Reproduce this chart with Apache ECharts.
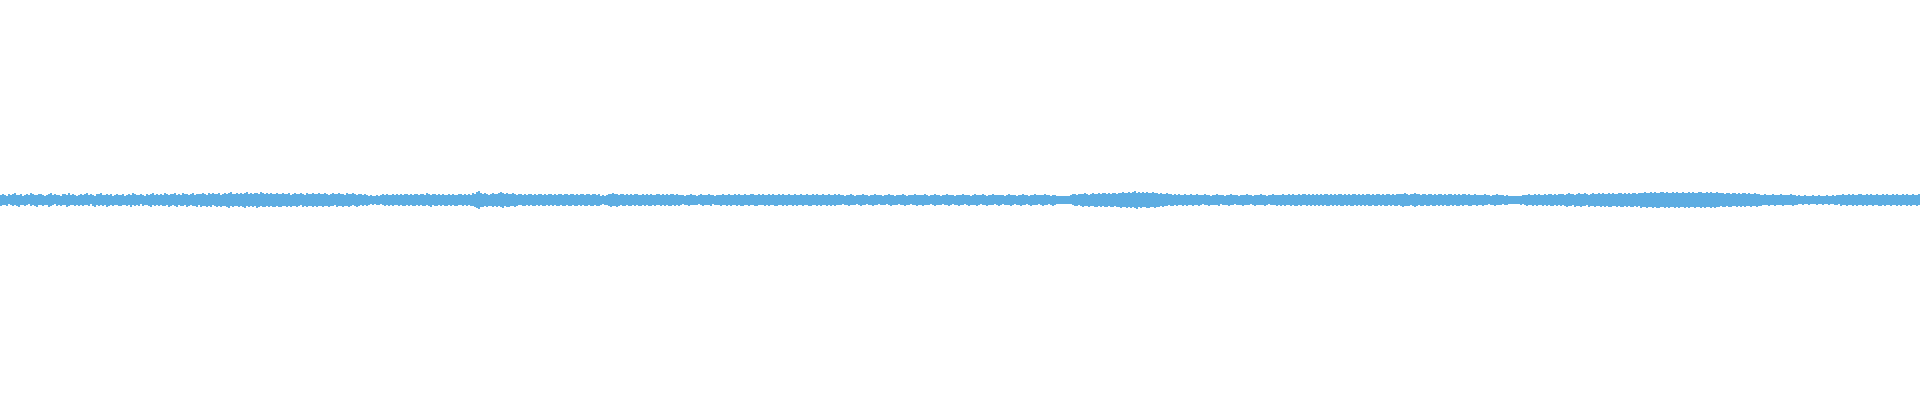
<!DOCTYPE html>
<html>
<head>
<meta charset="utf-8">
<style>html,body{margin:0;padding:0;background:#fff;}#main{width:1920px;height:400px;}</style>
<script src="https://cdn.jsdelivr.net/npm/echarts@6/dist/echarts.min.js"></script>
</head>
<body>
<div id="main"></div>
<script>
// Upper envelope (peak above centre) per column
var upper = [
5,6,5,4,6,5,6,7,5,5,6,4,5,6,5,7,6,5,5,6,
6,5,4,5,6,7,5,6,5,5,4,6,6,5,7,5,6,5,4,5,
6,5,6,7,5,6,5,4,6,6,7,5,5,6,5,6,4,5,6,5,
5,6,4,5,6,5,7,6,5,5,6,5,4,6,5,6,7,5,6,5,
6,5,7,6,5,6,6,7,5,6,5,7,6,6,5,6,7,5,6,6,
6,7,6,5,7,6,7,6,6,7,5,6,7,6,7,8,6,6,7,6,
7,6,7,8,6,7,6,7,7,6,8,7,6,7,6,7,6,6,7,6,
6,7,6,6,7,5,6,7,6,6,7,6,5,7,6,6,7,6,6,7,
6,6,7,6,5,6,7,6,6,7,6,6,5,7,6,6,7,6,5,6,
6,5,6,5,4,5,4,4,5,4,5,6,5,6,5,5,6,5,6,5,
6,5,6,6,5,6,5,6,6,5,6,6,5,7,6,5,6,6,5,6,
5,6,5,5,6,5,6,5,5,6,6,5,6,5,6,5,7,6,8,9,
7,6,7,6,5,6,7,6,6,7,8,7,6,7,6,6,7,6,5,6,
6,5,6,5,6,6,5,6,5,6,6,5,6,5,6,6,5,6,5,6,
6,5,6,6,5,6,6,5,6,5,6,6,5,6,6,5,6,6,5,6,
4,5,4,5,6,6,7,6,6,5,6,6,5,6,5,6,5,6,6,5,
5,6,5,6,5,6,5,5,6,6,5,6,5,6,5,6,6,5,6,5,
5,5,4,5,5,6,5,5,4,5,6,5,5,5,6,5,5,4,5,5,
5,6,5,5,6,5,5,6,5,6,5,5,6,5,5,6,6,5,5,6,
5,6,5,5,6,5,6,5,5,6,5,6,5,5,6,5,5,6,5,5,
6,5,5,6,5,5,6,5,6,5,5,6,5,5,6,5,5,6,5,6,
5,5,4,5,5,6,5,4,5,5,5,6,5,5,4,5,5,6,5,5,
5,4,5,5,6,5,5,4,5,5,5,6,5,4,5,5,5,6,5,5,
5,5,6,5,4,5,5,6,5,5,4,5,5,6,5,5,5,4,5,5,
5,6,5,5,5,4,5,6,5,5,5,6,5,4,5,5,6,5,5,5,
5,5,4,5,6,5,5,5,4,5,5,6,5,5,4,5,5,6,5,5,
5,5,6,5,5,4,5,5,4,4,4,4,4,4,4,5,6,6,5,6,
6,6,7,6,5,6,7,6,6,7,6,7,7,6,7,6,7,7,6,7,
7,8,7,7,8,7,8,9,7,8,7,8,7,8,7,7,8,7,7,6,
7,6,6,7,6,6,5,6,5,6,5,5,6,5,5,6,5,5,6,5,
5,5,6,5,5,4,5,5,6,5,5,5,4,5,5,6,5,5,5,4,
5,5,5,6,5,5,4,5,5,5,6,5,5,4,5,5,6,5,5,5,
5,6,5,5,6,5,6,5,5,6,5,6,6,5,6,5,6,5,6,5,
6,5,6,6,5,6,5,6,5,6,6,5,6,5,6,5,6,6,5,6,
5,6,5,6,6,5,6,5,6,6,5,6,5,6,6,5,6,5,6,6,
6,6,7,6,5,6,6,7,6,6,5,6,6,5,6,6,5,6,5,6,
6,5,6,5,6,6,5,6,5,6,5,6,6,5,6,5,5,6,5,5,
5,5,6,5,5,4,5,5,6,5,5,5,4,5,4,4,4,4,4,4,
4,5,5,5,6,5,5,6,5,6,5,5,6,5,6,6,5,6,5,6,
6,6,5,6,7,6,6,5,6,7,6,6,7,6,5,6,7,6,6,7,
6,7,6,6,7,6,7,6,6,7,7,6,7,6,7,6,7,7,6,7,
7,7,8,7,7,8,7,8,7,7,8,8,7,8,7,7,8,7,8,7,
7,8,7,7,8,7,8,7,7,8,8,7,7,8,7,8,7,7,8,7,
7,7,6,7,7,6,7,7,6,7,6,7,7,6,7,6,6,7,6,6,
5,5,6,5,5,5,6,5,5,5,6,5,5,5,5,6,5,5,4,5,
4,4,5,4,4,4,5,4,4,5,4,4,4,5,4,4,5,4,5,5,
5,6,5,5,6,5,6,5,5,6,6,5,5,6,5,6,5,5,6,5,
5,6,5,6,5,5,6,5,6,5,5,6,5,6,5,5,6,5,5,6
];
// Lower envelope (peak below centre, as magnitude) per column
var lower = [
6,5,5,6,4,5,6,5,6,7,5,5,6,5,4,6,5,6,7,5,
5,6,5,5,7,6,5,4,6,5,6,5,5,7,6,5,5,6,5,6,
5,6,5,5,6,4,6,7,5,6,5,6,5,7,6,5,6,5,5,6,
6,5,5,6,5,7,5,6,5,6,4,6,5,5,6,7,5,6,5,6,
5,6,6,5,7,6,5,6,7,5,6,6,5,7,6,5,6,6,7,5,
7,6,6,7,6,7,5,6,7,6,7,6,6,7,8,6,7,6,6,7,
6,7,8,6,7,6,7,6,8,7,6,7,7,6,7,6,7,7,6,7,
7,6,6,7,6,7,6,6,7,6,5,7,6,7,6,6,7,6,7,6,
6,7,6,6,7,6,6,5,7,6,6,7,6,6,7,6,5,6,7,6,
5,6,5,6,5,4,5,4,5,5,4,5,6,5,6,5,6,5,5,6,
5,6,6,5,6,5,6,6,5,6,5,6,6,5,6,7,5,6,6,5,
6,5,6,6,5,6,5,6,6,5,5,6,5,6,5,6,6,7,8,9,
7,7,6,7,6,6,7,6,7,6,7,8,6,7,7,6,6,7,6,5,
5,6,6,5,6,5,6,6,5,6,5,6,6,5,6,5,6,5,6,6,
5,6,6,5,6,6,5,6,6,5,6,5,6,6,5,6,6,5,6,6,
5,4,5,5,6,7,6,6,7,6,5,6,6,5,6,6,5,6,5,6,
6,5,6,5,6,6,5,6,5,5,6,5,6,5,6,6,5,6,5,6,
5,4,5,5,6,5,5,5,5,4,5,6,5,5,5,6,4,5,5,5,
6,5,5,6,5,6,5,5,6,5,6,6,5,5,6,5,5,6,6,5,
5,5,6,5,6,5,5,6,6,5,5,6,5,6,5,5,6,5,6,5,
5,6,5,5,6,6,5,5,6,5,6,5,5,6,5,6,5,6,5,5,
5,4,5,5,6,5,5,5,4,5,6,5,5,4,5,5,6,5,5,4,
5,5,5,4,5,6,5,5,5,4,5,5,6,5,5,4,5,5,6,5,
5,6,5,5,5,4,5,6,5,5,5,4,5,5,6,5,4,5,5,6,
5,5,4,5,6,5,5,5,6,5,4,5,5,6,5,5,5,4,5,6,
5,4,5,5,5,6,5,4,5,5,6,5,5,4,5,6,5,5,5,4,
5,6,5,5,4,5,6,5,4,4,4,4,4,4,4,4,5,6,6,5,
6,7,6,6,7,6,6,7,7,6,7,6,7,7,6,7,7,6,7,7,
8,7,7,8,7,8,7,8,9,7,8,7,7,8,8,7,7,8,7,7,
6,7,6,6,5,6,6,5,6,5,5,6,5,6,5,5,6,5,5,6,
5,4,5,5,6,5,5,5,5,6,4,5,5,5,6,5,5,4,5,5,
5,6,5,5,5,4,5,6,5,5,5,5,6,5,4,5,5,5,6,5,
6,5,6,5,5,6,5,6,6,5,6,5,5,6,5,6,5,6,5,6,
5,6,5,6,6,5,6,5,6,5,6,6,5,6,5,6,6,5,6,5,
6,5,6,5,6,6,5,6,6,5,6,5,6,6,5,6,5,6,6,5,
6,7,6,6,6,5,6,7,6,5,6,6,5,6,6,5,6,6,5,6,
5,6,5,6,6,5,6,5,6,6,5,6,5,5,6,6,5,5,6,5,
5,6,5,5,4,5,5,6,5,5,5,4,5,5,4,4,4,4,4,4,
5,4,5,6,5,5,6,5,6,5,5,6,5,6,5,6,6,5,6,5,
6,5,6,7,6,6,5,7,6,6,7,6,6,5,7,6,6,7,6,6,
7,6,7,6,7,7,6,6,7,6,7,7,6,7,6,7,7,6,7,6,
8,7,7,8,7,7,8,7,8,8,7,7,8,7,8,7,7,8,7,8,
7,7,8,7,8,7,7,8,7,7,8,7,8,7,7,8,7,8,7,7,
6,7,7,6,7,7,6,6,7,6,7,6,7,6,6,7,6,6,7,6,
6,5,5,5,6,5,5,6,5,5,5,6,5,5,5,5,6,5,5,4,
4,5,4,4,5,4,4,4,5,4,4,5,4,4,5,4,4,5,5,4,
6,5,5,6,5,5,6,5,6,5,5,6,5,6,5,5,6,5,5,6,
6,5,6,5,5,6,5,5,6,5,6,5,5,6,5,6,5,5,6,5
];
var categories = upper.map(function (_, i) { return i; });

var chart = echarts.init(document.getElementById('main'), null, {renderer: 'canvas'});
chart.setOption({
  animation: false,
  backgroundColor: '#ffffff',
  grid: {left: 0, right: 0, top: 0, bottom: 0},
  xAxis: {type: 'category', data: categories, show: false, boundaryGap: true},
  yAxis: {type: 'value', min: -200, max: 200, show: false},
  series: [
    {type: 'bar', stack: 'wave', data: upper, barWidth: '100%', barCategoryGap: '0%',
     itemStyle: {color: '#5dade2'}, silent: true},
    {type: 'bar', stack: 'wave', data: lower.map(function (v) { return -v; }), barWidth: '100%', barCategoryGap: '0%',
     itemStyle: {color: '#5dade2'}, silent: true}
  ]
});
</script>
</body>
</html>
